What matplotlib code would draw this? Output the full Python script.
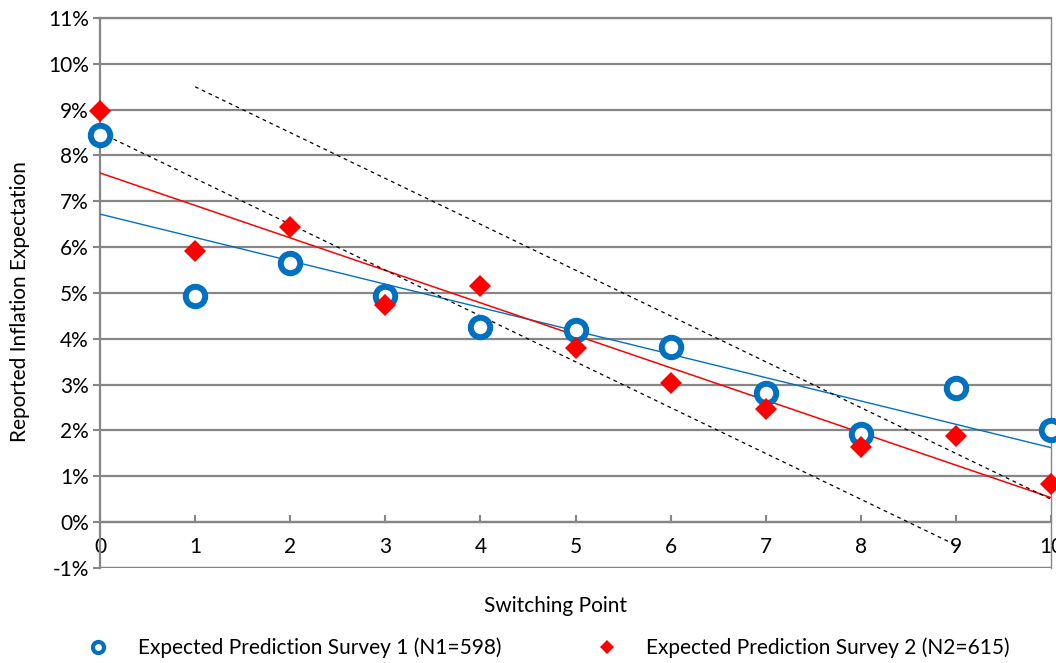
import numpy as np
import matplotlib
matplotlib.use("Agg")
import matplotlib.pyplot as plt
from matplotlib.lines import Line2D
from matplotlib.ticker import FuncFormatter

plt.rcParams['font.family'] = ['Lato', 'DejaVu Sans']

# --- Data ---
switching_point = np.arange(0, 11)
survey1 = [8.45, 4.93, 5.65, 4.93, 4.25, 4.20, 3.82, 2.82, 1.93, 2.92, 2.01]
survey2 = [8.97, 5.91, 6.45, 4.73, 5.15, 3.80, 3.03, 2.47, 1.63, 1.88, 0.83]
label1 = "Expected Prediction Survey 1 (N1=598)"
label2 = "Expected Prediction Survey 2 (N2=615)"

# dashed reference band (endpoints)
upper_x = [1, 10]
upper_y = [9.5, 0.5]
lower_x = [0, 9]
lower_y = [8.5, -0.5]

blue = "#0070C0"
red = "#FF0000"
grid_col = "#868686"
fs = 15

fig = plt.figure(figsize=(10.56, 6.63), dpi=100)
ax = fig.add_axes([100 / 1056, 1 - 568 / 663, 951 / 1056, 550 / 663])

# linear trend lines
for ys, col, lw in [(survey1, blue, 1.0), (survey2, red, 1.1)]:
    k, b = np.polyfit(switching_point, ys, 1)
    xx = np.array([0, 10])
    ax.plot(xx, k * xx + b, color=col, lw=lw, zorder=3)

ax.plot(upper_x, upper_y, color="black", lw=0.9, ls=(0, (3, 3)), zorder=3)
ax.plot(lower_x, lower_y, color="black", lw=0.9, ls=(0, (3, 3)), zorder=3)

ax.plot(switching_point, survey1, ls="none", marker="o", ms=14, mfc="white",
        mec=blue, mew=4.3, zorder=4, clip_on=False)
ax.plot(switching_point, survey2, ls="none", marker="D", ms=11, mfc=red,
        mec=red, mew=0, zorder=5, clip_on=False)

ax.set_xlim(0, 10)
ax.set_ylim(-1, 11)
ax.set_yticks(np.arange(-1, 12, 1))
ax.yaxis.set_major_formatter(FuncFormatter(lambda v, p: f"{v:.0f}%"))
ax.set_xticks(np.arange(0, 11, 1))

ax.grid(axis="y", color=grid_col, lw=1.6, zorder=0)
ax.set_axisbelow(True)

for s in ["left", "right", "top", "bottom"]:
    ax.spines[s].set_color(grid_col)
ax.spines["left"].set_linewidth(1.6)
ax.spines["right"].set_linewidth(1.0)
ax.spines["top"].set_linewidth(1.6)
ax.spines["bottom"].set_position(("data", 0))
ax.spines["bottom"].set_linewidth(1.6)

ax.tick_params(axis="y", direction="out", length=5, width=1.5, color=grid_col,
               labelsize=fs, pad=3)
ax.tick_params(axis="x", direction="in", length=5, width=1.5, color=grid_col,
               labelsize=fs, pad=11)

# bottom frame line at -1%
ax.axhline(-1, color=grid_col, lw=1.6, zorder=1)

fig.text(556 / 1056, 1 - 606 / 663, "Switching Point", ha="center", va="center",
         fontsize=fs)
fig.text(20 / 1056, 1 - 302 / 663, "Reported Inflation Expectation", ha="center",
         va="center", rotation=90, fontsize=fs)

handles = [
    Line2D([], [], ls="none", marker="o", ms=8, mfc="white", mec=blue, mew=3),
    Line2D([], [], ls="none", marker="D", ms=7, mfc=red, mec=red, mew=0),
]
fig.legend(handles, [label1, label2], loc="center left",
           bbox_to_anchor=(67 / 1056, 1 - 648 / 663), ncol=2, frameon=False,
           fontsize=fs, handletextpad=1.3, columnspacing=4.45, handlelength=1.2)

fig.savefig("out.png", dpi=100)
